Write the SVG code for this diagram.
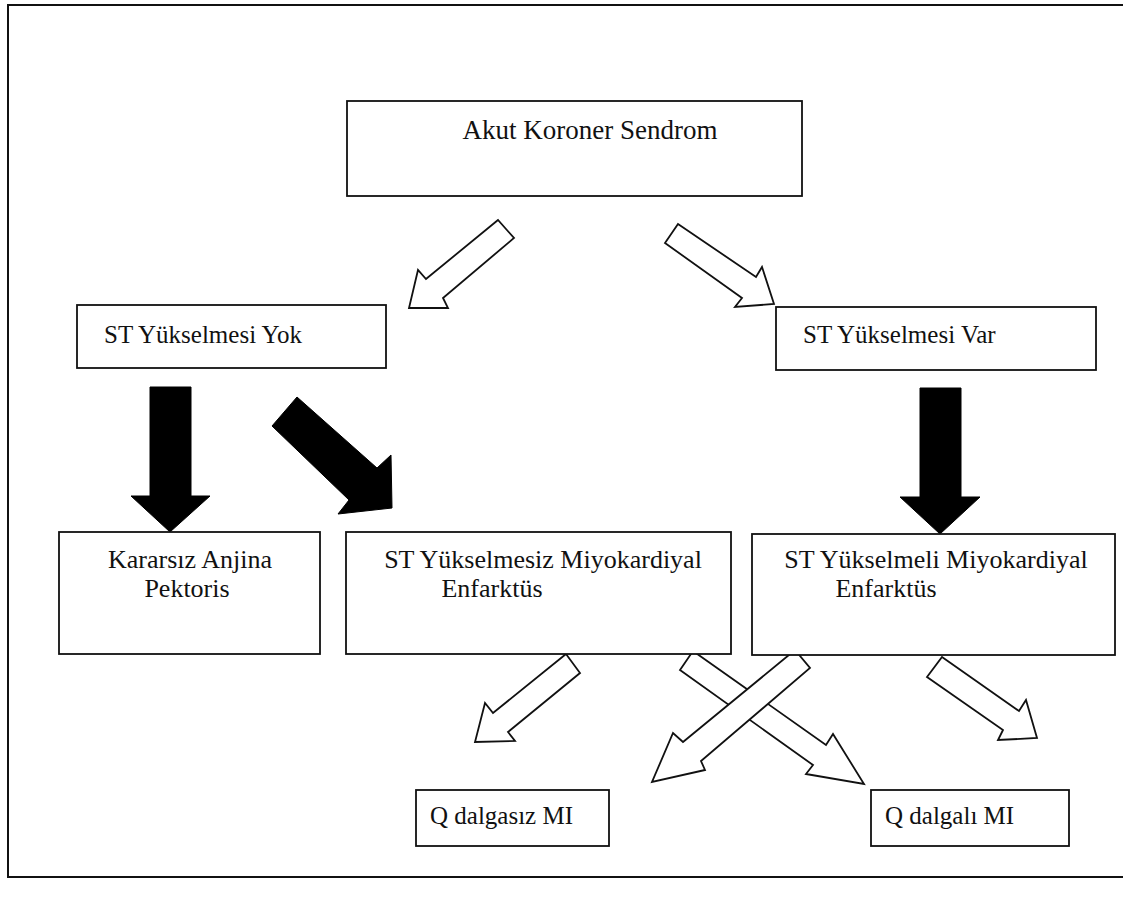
<svg xmlns="http://www.w3.org/2000/svg" width="1137" height="899" viewBox="0 0 1137 899">
<style>
.box{fill:#fff;stroke:#111;stroke-width:1.8}
.frame{fill:none;stroke:#111;stroke-width:2}
.hol{fill:#fff;stroke:#111;stroke-width:1.8;stroke-linejoin:miter}
.sol{fill:#000;stroke:#000;stroke-width:1}
text{font-family:"Liberation Serif","Times New Roman",serif;font-size:25px;fill:#111}
.c{text-anchor:middle}
.big{font-size:27px}
.mid{font-size:26px}
</style>
<rect width="1137" height="899" fill="#fff"/>
<path class="frame" d="M1123,5 H8 V877 H1123"/>
<g id="connectors">
<polygon class="hol" points="498,220 426,279 418,270 409,308 448,308 443,298 514,238"/>
<polygon class="hol" points="678,224 756,277 762,267 774,304 735,307 742,298 665,243"/>
<polygon class="sol" points="150,387 191,387 191,496 210,496 170,532 131,496 150,496"/>
<polygon class="sol" points="297,397 377,468 391,455 392,508 338,514 349,500 272,426"/>
<polygon class="sol" points="920,388 961,388 961,497 980,497 940,534 900,497 920,497"/>
<polygon class="hol" points="566,654 493,713 485,703 475,742 515,741 508,732 580,673"/>
<polygon class="hol" points="693,651 826,745 833,734 864,784 806,774 813,765 680,670"/>
<polygon class="hol" points="795,650 683,742 673,733 652,782 705,770 701,761 810,668"/>
<polygon class="hol" points="942,657 1019,711 1026,700 1037,738 998,740 1003,730 927,677"/>
</g>
<g id="akut"><rect class="box" x="347" y="101" width="455" height="95"/><text class="c big" x="590" y="139">Akut Koroner Sendrom</text></g>
<g id="st-yok"><rect class="box" x="77" y="305" width="309" height="63"/><text x="104" y="343">ST Yükselmesi Yok</text></g>
<g id="st-var"><rect class="box" x="776" y="307" width="320" height="63"/><text x="803" y="343">ST Yükselmesi Var</text></g>
<g id="kararsiz"><rect class="box" x="59" y="532" width="261" height="122"/><text class="c mid" x="190" y="568">Kararsız Anjina</text><text class="c mid" x="187" y="597">Pektoris</text></g>
<g id="nstemi"><rect class="box" x="346" y="532" width="385" height="122"/><text class="c mid" x="543" y="568">ST Yükselmesiz Miyokardiyal</text><text class="c mid" x="492" y="597">Enfarktüs</text></g>
<g id="stemi"><rect class="box" x="752" y="534" width="363" height="121"/><text class="c mid" x="936" y="568">ST Yükselmeli Miyokardiyal</text><text class="c mid" x="886" y="597">Enfarktüs</text></g>
<g id="q-dalgasiz"><rect class="box" x="416" y="790" width="193" height="56"/><text x="430" y="824">Q dalgasız MI</text></g>
<g id="q-dalgali"><rect class="box" x="871" y="790" width="198" height="56"/><text x="885" y="824">Q dalgalı MI</text></g>
</svg>
